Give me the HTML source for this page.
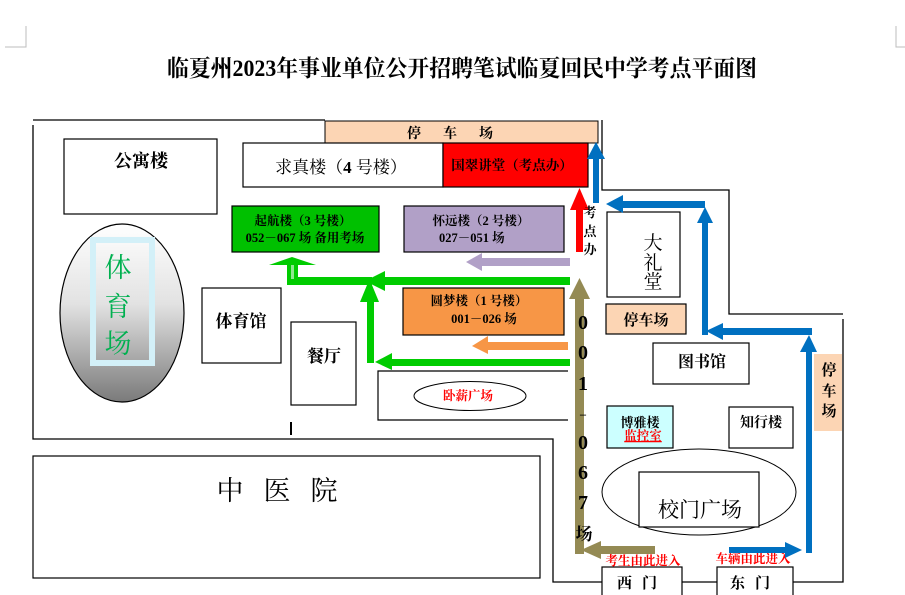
<!DOCTYPE html>
<html><head><meta charset="utf-8"><style>
html,body{margin:0;padding:0;background:#fff;}
svg{display:block;}
text{font-family:"Liberation Serif","Noto Serif CJK SC",serif;}
.b{font-weight:bold;}
</style></head><body>
<svg width="905" height="595" viewBox="0 0 905 595" xmlns="http://www.w3.org/2000/svg">
<defs>
<linearGradient id="gg" x1="0" y1="0" x2="0" y2="1">
<stop offset="0" stop-color="#ffffff"/><stop offset="0.45" stop-color="#e2e2e2"/><stop offset="1" stop-color="#7a7a7a"/>
</linearGradient>
</defs>
<!-- corner marks -->
<path d="M5,47H26V26M896,26V47H905" fill="none" stroke="#bdbdbd" stroke-width="1"/>
<!-- title -->
<text x="462" y="76" font-size="23" class="b" text-anchor="middle" textLength="590" lengthAdjust="spacingAndGlyphs">临夏州2023年事业单位公开招聘笔试临夏回民中学考点平面图</text>

<!-- boundary lines -->
<g fill="none" stroke="#000" stroke-width="1.3">
<path d="M33,120H325"/>
<path d="M33,125V439H553V582H602"/>
<path d="M602,120V190H729V314H843"/>
<path d="M843,319V582H793"/>
<path d="M682,582H717"/>
<path d="M291,422V435" stroke-width="2"/>
</g>

<!-- top parking -->
<rect x="325" y="121" width="273" height="22" fill="#FCD5B4" stroke="#000" stroke-width="1"/>
<text x="461" y="138" font-size="14" class="b" text-anchor="middle" letter-spacing="22">停车场</text>

<!-- 公寓楼 -->
<rect x="64" y="139" width="153" height="75" fill="#fff" stroke="#000" stroke-width="1.2"/>
<text x="141" y="167" font-size="18" class="b" text-anchor="middle">公寓楼</text>

<!-- 求真楼 -->
<rect x="243" y="143" width="200" height="44" fill="#fff" stroke="#000" stroke-width="1.2"/>
<text x="341" y="173" font-size="17" text-anchor="middle">求真楼（<tspan class="b">4</tspan> 号楼）</text>
<rect x="443" y="143" width="145" height="44" fill="#FF0000" stroke="#000" stroke-width="1.2"/>
<text x="512" y="170" font-size="13.5" class="b" text-anchor="middle">国翠讲堂（考点办）</text>

<!-- 起航楼 -->
<rect x="232" y="206" width="147" height="46" fill="#00C000" stroke="#000" stroke-width="1.2"/>
<text x="303" y="225" font-size="12.5" class="b" text-anchor="middle">起航楼（3 号楼）</text>
<text x="305" y="242" font-size="12.5" class="b" text-anchor="middle">052－067 场  备用考场</text>

<!-- 怀远楼 -->
<rect x="404" y="206" width="160" height="46" fill="#B1A0C7" stroke="#000" stroke-width="1.2"/>
<text x="481" y="225" font-size="12.5" class="b" text-anchor="middle">怀远楼（2 号楼）</text>
<text x="439" y="242" font-size="12.5" class="b">027－051 场</text>

<!-- 圆梦楼 -->
<rect x="403" y="288" width="161" height="47" fill="#F79646" stroke="#000" stroke-width="1.2"/>
<text x="479" y="305" font-size="12.5" class="b" text-anchor="middle">圆梦楼（1 号楼）</text>
<text x="484" y="323" font-size="12.5" class="b" text-anchor="middle">001－026 场</text>

<!-- 体育场 -->
<ellipse cx="122" cy="313" rx="62" ry="89" fill="url(#gg)" stroke="#000" stroke-width="1.2"/>
<rect x="93" y="240" width="59" height="123" fill="none" stroke="#D3F0F8" stroke-width="6"/>
<g font-size="27" fill="#00B050" text-anchor="middle">
<text x="118" y="277">体</text><text x="118" y="316">育</text><text x="118" y="353">场</text>
</g>

<!-- 体育馆 -->
<rect x="202" y="288" width="79" height="75" fill="#fff" stroke="#000" stroke-width="1.2"/>
<text x="241" y="327" font-size="17" class="b" text-anchor="middle">体育馆</text>
<!-- 餐厅 -->
<rect x="291" y="322" width="65" height="83" fill="#fff" stroke="#000" stroke-width="1.2"/>
<text x="324" y="362" font-size="17" class="b" text-anchor="middle">餐厅</text>

<!-- 卧薪广场 -->
<path d="M568,371H378V420H568" fill="none" stroke="#000" stroke-width="1.2"/>
<ellipse cx="470" cy="396" rx="56" ry="14.5" fill="#fff" stroke="#000" stroke-width="1"/>
<text x="468" y="400" font-size="12.5" class="b" fill="#FF0000" text-anchor="middle">卧薪广场</text>

<!-- 中医院 -->
<rect x="33" y="456" width="507" height="122" fill="#fff" stroke="#000" stroke-width="1.2"/>
<text x="287" y="500" font-size="27" text-anchor="middle" letter-spacing="20">中医院</text>

<!-- 大礼堂 -->
<rect x="607" y="212" width="73" height="85" fill="#fff" stroke="#000" stroke-width="1.2"/>
<g font-size="19" text-anchor="middle">
<text x="653" y="249">大</text><text x="653" y="269">礼</text><text x="653" y="288">堂</text>
</g>
<rect x="606" y="304" width="80" height="30" fill="#FCD5B4" stroke="#000" stroke-width="1.2"/>
<text x="646" y="325" font-size="15" class="b" text-anchor="middle">停车场</text>

<!-- 图书馆 -->
<rect x="653" y="343" width="96" height="41" fill="#fff" stroke="#000" stroke-width="1.2"/>
<text x="702" y="367" font-size="16" class="b" text-anchor="middle">图书馆</text>

<!-- 博雅楼 -->
<rect x="607" y="406" width="66" height="42" fill="#CCFFFF" stroke="#000" stroke-width="1.2"/>
<text x="640" y="427" font-size="13" class="b" text-anchor="middle">博雅楼</text>
<text x="643" y="440" font-size="12.5" class="b" fill="#FF0000" text-anchor="middle" text-decoration="underline">监控室</text>
<!-- 知行楼 -->
<rect x="729" y="407" width="64" height="41" fill="#fff" stroke="#000" stroke-width="1.2"/>
<text x="761" y="427" font-size="14" class="b" text-anchor="middle">知行楼</text>

<!-- 校门广场 -->
<ellipse cx="699" cy="492" rx="97" ry="43" fill="#fff" stroke="#000" stroke-width="1"/>
<rect x="639" y="472" width="120" height="55" fill="#fff" stroke="#000" stroke-width="1.2"/>
<text x="700" y="517" font-size="21" text-anchor="middle">校门广场</text>

<!-- gates -->
<rect x="602" y="567" width="80" height="35" fill="#fff" stroke="#000" stroke-width="1.2"/>
<text x="642" y="588" font-size="15" class="b" text-anchor="middle" letter-spacing="10">西门</text>
<rect x="717" y="567" width="76" height="35" fill="#fff" stroke="#000" stroke-width="1.2"/>
<text x="755" y="588" font-size="15" class="b" text-anchor="middle" letter-spacing="10">东门</text>
<text x="643" y="565" font-size="12.5" class="b" fill="#FF0000" text-anchor="middle">考生由此进入</text>
<text x="753" y="563" font-size="12.5" class="b" fill="#FF0000" text-anchor="middle">车辆由此进入</text>

<!-- right parking -->
<rect x="814" y="354" width="28" height="77" fill="#FCD5B4"/>
<g font-size="15" class="b" text-anchor="middle">
<text x="829" y="375">停</text><text x="829" y="396">车</text><text x="829" y="416">场</text>
</g>

<!-- blue arrows -->
<g fill="#0070C0">
<rect x="593" y="157" width="6" height="46"/><polygon points="587,159 605,159 596,142"/>
<rect x="621" y="201" width="84" height="7"/><polygon points="623,195 623,213 606,204"/>
<rect x="702" y="222" width="6" height="113"/><polygon points="697,223 713,223 705,207"/>
<rect x="721" y="328" width="91" height="7"/><polygon points="723,323 723,340 706,331"/>
<rect x="806" y="351" width="6" height="202"/><polygon points="800,352 817,352 809,335"/>
<rect x="729" y="547" width="58" height="6"/><polygon points="785,542 785,558 802,550"/>
</g>

<!-- red arrow -->
<rect x="576" y="209" width="7" height="43" fill="#FF0000"/>
<polygon points="570,210 589,210 579.5,188" fill="#FF0000"/>
<g font-size="13" class="b" text-anchor="middle">
<text x="590" y="217">考</text><text x="590" y="236">点</text><text x="590" y="254">办</text>
</g>

<!-- olive arrows -->
<g fill="#948A54">
<rect x="575" y="298" width="9" height="256"/><polygon points="569,299 590,299 579.5,278"/>
<rect x="599" y="546" width="56" height="8"/><polygon points="601,541 601,559 581,550"/>
</g>
<g font-size="20" class="b" text-anchor="middle">
<text x="583" y="329">0</text><text x="583" y="359">0</text><text x="583" y="390">1</text>
<text x="583" y="418" font-size="12">–</text>
<text x="583" y="449">0</text><text x="583" y="479">6</text><text x="583" y="509">7</text>
<text x="584" y="540" font-size="17">场</text>
</g>

<!-- purple & orange arrows -->
<rect x="481" y="258" width="89" height="8" fill="#B1A0C7"/>
<polygon points="482,253 482,271 466,262" fill="#B1A0C7"/>
<rect x="487" y="342" width="81" height="8" fill="#F79646"/>
<polygon points="488,336 488,354 472,346" fill="#F79646"/>

<!-- green arrows -->
<g fill="#00CC00">
<rect x="287" y="277" width="85" height="8"/>
<rect x="287" y="264" width="11" height="21"/>
<polygon points="269,265 316,265 292,257"/>
<rect x="383" y="277" width="187" height="8"/>
<polygon points="385,271 385,291 365,281"/>
<rect x="367" y="300" width="7" height="63"/>
<polygon points="360,302 379,302 369.5,279"/>
<rect x="390" y="359" width="180" height="7"/>
<polygon points="392,353 392,370 375,362"/>
</g>
<rect x="291" y="265" width="3" height="14" fill="#8EE88E"/>
</svg>
</body></html>
